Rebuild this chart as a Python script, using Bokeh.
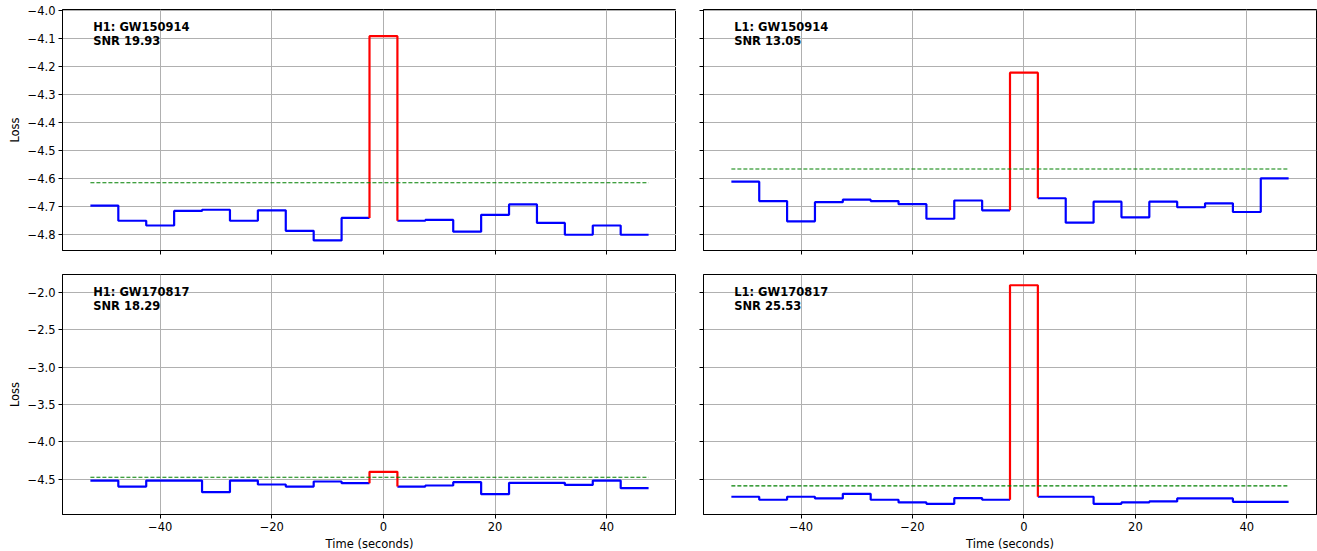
from bokeh.plotting import figure
from bokeh.models import Range1d, FixedTicker, CustomJSTickFormatter, Label
from bokeh.layouts import column, row
from bokeh.embed import file_html
from bokeh.resources import INLINE

# ---- data -------------------------------------------------------------
bin_centers = [-50, -45, -40, -35, -30, -25, -20, -15, -10, -5,
               0, 5, 10, 15, 20, 25, 30, 35, 40, 45]
bin_width = 5.0
peak_bin = 10  # bin centred on the event time

h1_gw150914 = [-4.696, -4.750, -4.767, -4.715, -4.711, -4.750, -4.713, -4.786, -4.820, -4.740,
               -4.093, -4.750, -4.747, -4.789, -4.729, -4.692, -4.758, -4.800, -4.767, -4.800]
l1_gw150914 = [-4.611, -4.680, -4.752, -4.684, -4.675, -4.680, -4.691, -4.743, -4.678, -4.713,
               -4.223, -4.670, -4.757, -4.682, -4.738, -4.682, -4.702, -4.688, -4.719, -4.599]
h1_gw170817 = [-4.518, -4.598, -4.518, -4.518, -4.673, -4.518, -4.571, -4.598, -4.531, -4.553,
               -4.402, -4.598, -4.584, -4.540, -4.700, -4.549, -4.549, -4.576, -4.518, -4.620]
l1_gw170817 = [-4.735, -4.775, -4.735, -4.757, -4.695, -4.775, -4.811, -4.829, -4.753, -4.775,
               -1.907, -4.735, -4.735, -4.829, -4.811, -4.797, -4.757, -4.757, -4.802, -4.802]

thresholds = {"H1: GW150914": -4.615, "L1: GW150914": -4.566,
              "H1: GW170817": -4.473, "L1: GW170817": -4.589}
snr = {"H1: GW150914": "19.93", "L1: GW150914": "13.05",
       "H1: GW170817": "18.29", "L1: GW170817": "25.53"}

x_ticks = [-40, -20, 0, 20, 40]
top_y_ticks = [-4.8, -4.7, -4.6, -4.5, -4.4, -4.3, -4.2, -4.1, -4.0]
bottom_y_ticks = [-4.5, -4.0, -3.5, -3.0, -2.5, -2.0]

# ---- styling ----------------------------------------------------------
FONT = "DejaVu Sans"
FS = "11.5px"
FRAME_W = 613
X_RANGE = (-57.5, 52.5)
TOP_Y = (-4.856, -3.998)
BOTTOM_Y = (-4.972, -1.763)


def fmt(digits):
    return CustomJSTickFormatter(
        code="return tick.toFixed(%d).replace('-', '\\u2212');" % digits)


blank = CustomJSTickFormatter(code="return '';")


def step_path(centers, vals):
    xs, ys = [], []
    for c, v in zip(centers, vals):
        xs += [c - bin_width / 2, c + bin_width / 2]
        ys += [v, v]
    return xs, ys


def panel(name, vals, y_range, y_ticks, y_digits, first_col, last_row):
    p = figure(
        frame_width=FRAME_W + (1 if first_col else 0),
        frame_height=240 if last_row else 241,
        x_range=Range1d(*X_RANGE), y_range=y_range,
        output_backend="svg", toolbar_location=None,
        min_border_left=62 if first_col else 27,
        min_border_right=0 if first_col else 1,
        min_border_top=0 if last_row else 9,
        min_border_bottom=37 if last_row else 24,
        background_fill_color="white", border_fill_color="white",
    )
    p.outline_line_color = "black"
    p.outline_line_width = 1

    p.xaxis.ticker = FixedTicker(ticks=x_ticks)
    p.yaxis.ticker = FixedTicker(ticks=y_ticks)
    for ax in (p.xaxis[0], p.yaxis[0]):
        ax.axis_line_color = "black"
        ax.major_tick_line_color = "black"
        ax.major_tick_out = 4
        ax.major_tick_in = 0
        ax.minor_tick_line_color = None
        ax.major_label_text_font = FONT
        ax.major_label_text_font_size = FS
        ax.major_label_text_color = "black"
        ax.axis_label_text_font = FONT
        ax.axis_label_text_font_size = FS
        ax.axis_label_text_font_style = "normal"
        ax.axis_label_text_color = "black"
        ax.major_label_standoff = 3
        ax.axis_label_standoff = 3

    p.xaxis.formatter = fmt(0) if last_row else blank
    if last_row:
        p.xaxis.axis_label = "Time (seconds)"
    p.yaxis.formatter = fmt(y_digits) if first_col else blank
    if first_col:
        p.yaxis.axis_label = "Loss"

    p.grid.grid_line_color = "#b0b0b0"
    p.grid.grid_line_width = 1

    # loss per time bin, before and after the event bin
    xs, ys = step_path(bin_centers[:peak_bin], vals[:peak_bin])
    p.line(xs, ys, line_color="blue", line_width=2.2)
    xs, ys = step_path(bin_centers[peak_bin + 1:], vals[peak_bin + 1:])
    p.line(xs, ys, line_color="blue", line_width=2.2)

    # bin containing the event, joined to its neighbours
    lo = bin_centers[peak_bin] - bin_width / 2
    hi = bin_centers[peak_bin] + bin_width / 2
    p.line([lo, lo, hi, hi],
           [vals[peak_bin - 1], vals[peak_bin], vals[peak_bin], vals[peak_bin + 1]],
           line_color="red", line_width=2.2)

    # detection threshold
    thr = thresholds[name]
    p.line([bin_centers[0] - bin_width / 2, bin_centers[-1] + bin_width / 2], [thr, thr],
           line_color="green", line_width=1.1, line_dash="4 2")

    tx = X_RANGE[0] + 0.05 * (X_RANGE[1] - X_RANGE[0])
    ty = y_range.end - 0.05 * (y_range.end - y_range.start)
    for i, txt in enumerate([name, "SNR " + snr[name]]):
        p.add_layout(Label(x=tx, y=ty, y_offset=2 - 14.7 * i, text=txt,
                           text_font=FONT, text_font_size=FS, text_font_style="bold",
                           text_color="black", text_baseline="top", text_align="left"))
    return p


top_range = Range1d(*TOP_Y)
bottom_range = Range1d(*BOTTOM_Y)

p1 = panel("H1: GW150914", h1_gw150914, top_range, top_y_ticks, 1, True, False)
p2 = panel("L1: GW150914", l1_gw150914, top_range, top_y_ticks, 1, False, False)
p3 = panel("H1: GW170817", h1_gw170817, bottom_range, bottom_y_ticks, 1, True, True)
p4 = panel("L1: GW170817", l1_gw170817, bottom_range, bottom_y_ticks, 1, False, True)

layout = column(row(p1, p2), row(p3, p4))

with open("out.html", "w") as f:
    f.write(file_html(layout, INLINE))
